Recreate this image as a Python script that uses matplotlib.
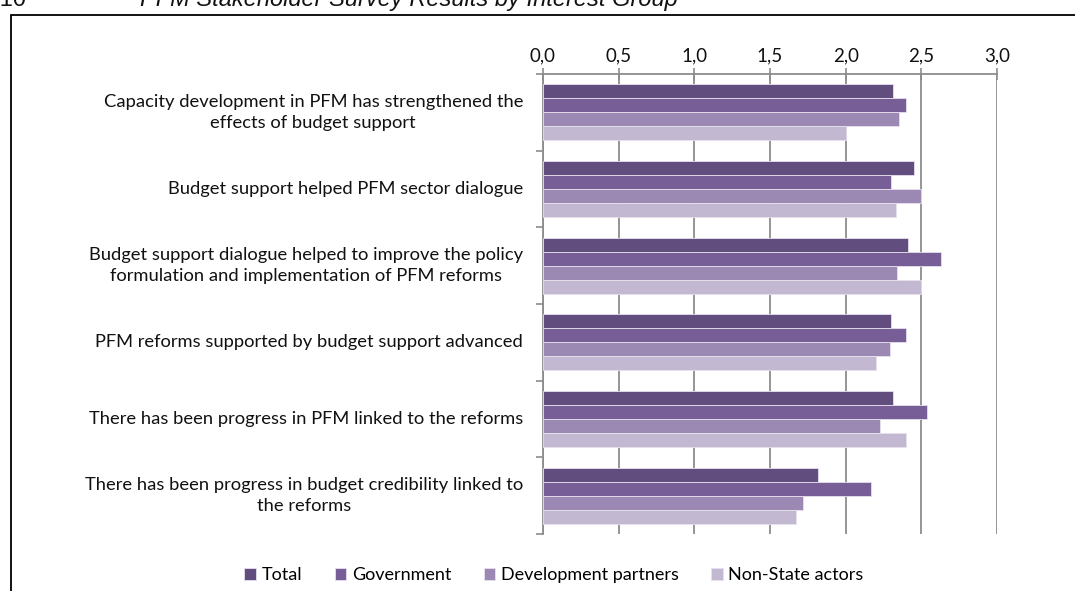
import matplotlib
matplotlib.use("Agg")
import matplotlib.pyplot as plt
import numpy as np
from matplotlib.patches import Rectangle
from matplotlib.ticker import FuncFormatter

plt.rcParams['font.family'] = ['Lato', 'DejaVu Sans']

statements = [
    "Capacity development in PFM has strengthened the\neffects of budget support",
    "Budget support helped PFM sector dialogue",
    "Budget support dialogue helped to improve the policy\nformulation and implementation of PFM reforms",
    "PFM reforms supported by budget support advanced",
    "There has been progress in PFM linked to the reforms",
    "There has been progress in budget credibility linked to\nthe reforms",
]
groups = ["Total", "Government", "Development partners", "Non-State actors"]

total = [2.31, 2.45, 2.41, 2.30, 2.31, 1.82]
government = [2.40, 2.30, 2.63, 2.40, 2.54, 2.17]
dev_partners = [2.35, 2.50, 2.34, 2.29, 2.23, 1.72]
non_state = [2.00, 2.33, 2.50, 2.20, 2.40, 1.67]

colors = ["#624E7E", "#775E96", "#9B88B3", "#C3B8D1"]
txt_col = "#111111"

fig = plt.figure(figsize=(10.75, 5.91), dpi=100)
ax = fig.add_axes([543 / 1075, 1 - 534 / 591, (997 - 543) / 1075, (534 - 74) / 591])

y = np.arange(len(statements))
h = 0.183
series = [total, government, dev_partners, non_state]
for k, (vals, col, name) in enumerate(zip(series, colors, groups)):
    ax.barh(y + (k - 1.5) * h, vals, height=h, color=col, edgecolor="#E6E0EE",
            linewidth=0.6, label=name, zorder=3)

ax.set_xlim(0, 3.0)
ax.set_ylim(len(statements) - 0.5, -0.5)

ax.xaxis.tick_top()
ax.set_xticks(np.arange(0, 3.01, 0.5))
ax.xaxis.set_major_formatter(FuncFormatter(lambda v, p: f"{v:.1f}".replace(".", ",")))
ax.tick_params(axis="x", direction="inout", length=8, width=1.2, color="#8C8C8C",
               labelsize=13.5, pad=3, labelcolor=txt_col)
ax.grid(axis="x", color="#8C8C8C", linewidth=1.3, zorder=0)

# category labels are drawn separately so wrapped lines stay centred
ax.set_yticks(y)
ax.set_yticklabels([])
ax.tick_params(axis="y", length=0)
ax.set_yticks(np.arange(-0.5, len(statements), 1.0), minor=True)
ax.tick_params(axis="y", which="minor", direction="out", length=5, width=1.2, color="#8C8C8C")

for s in ["right", "bottom"]:
    ax.spines[s].set_visible(False)
for s in ["left", "top"]:
    ax.spines[s].set_color("#8C8C8C")
    ax.spines[s].set_linewidth(1.3)

for txt, yy in zip(statements, y):
    ax.annotate(txt, xy=(0, yy), xycoords=("axes fraction", "data"),
                xytext=(-20, 0), textcoords="offset pixels",
                ha="right", va="center", multialignment="center",
                fontsize=13.2, color=txt_col, linespacing=1.35)

ax.legend(loc="center", bbox_to_anchor=(554 / 1075, 1 - 575 / 591),
          bbox_transform=fig.transFigure, ncol=4, frameon=False,
          fontsize=13, handlelength=0.65, handleheight=0.65,
          handletextpad=0.3, columnspacing=1.8)

# outer frame and caption above it
fig.patches.append(Rectangle((11 / 1075, -0.1), 1.2, 1 - 15 / 591 + 0.1,
                             transform=fig.transFigure, fill=False,
                             edgecolor="black", linewidth=1.3))
fig.text(140 / 1075, 1 - 6 / 591, "PFM Stakeholder Survey Results by Interest Group",
         fontsize=17, style="italic", ha="left", va="baseline",
         family=["Liberation Sans"], color=txt_col)
fig.text(26 / 1075, 1 - 6 / 591, "Figure 10", fontsize=17, ha="right",
         va="baseline", family=["Liberation Sans"], color=txt_col)

fig.savefig("out.png", dpi=100)
